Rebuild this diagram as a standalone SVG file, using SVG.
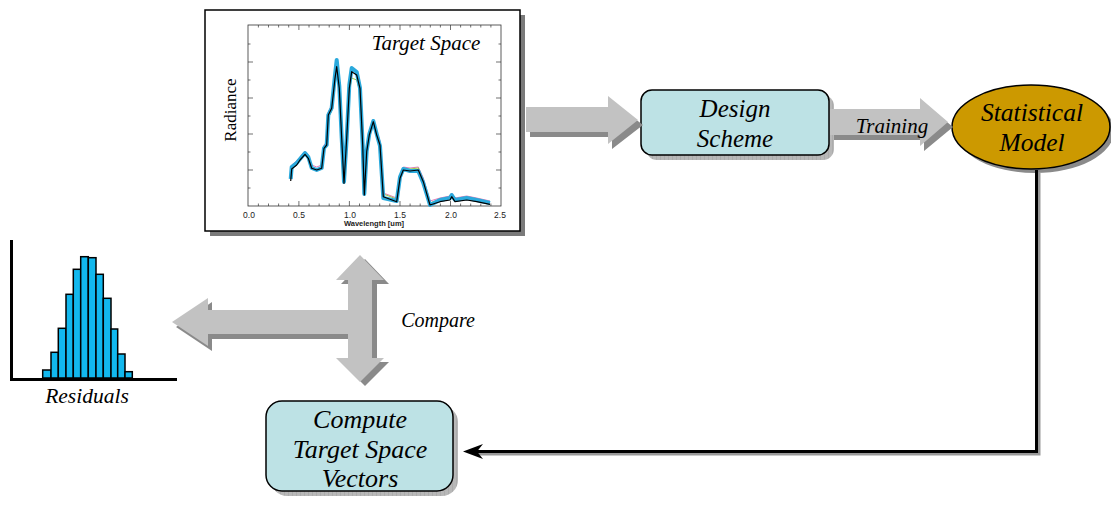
<svg xmlns="http://www.w3.org/2000/svg" width="1111" height="506" viewBox="0 0 1111 506">
<defs>
<style>
.lbl{font-family:"Liberation Serif","Times New Roman",serif;font-style:italic;fill:#000;text-anchor:middle}
.box{fill:#bde2e5;stroke:#000;stroke-width:1.5}
.arr{fill:#c2c2c2}
.arrs{fill:#8a8a8a}
.tick{stroke:#333;stroke-width:0.7}
.tl{font-family:"Liberation Sans",Arial,sans-serif;font-size:8.5px;fill:#222;text-anchor:middle}
.bar{fill:#12b8ee;stroke:#000;stroke-width:1.5}
</style>
<pattern id="grid" width="4" height="4" patternUnits="userSpaceOnUse">
<rect width="4" height="4" fill="#b8b8b8"/>
<path d="M0,0V4" stroke="#8f8f8f" stroke-width="0.6"/>
</pattern>
</defs>

<g id="target-space">
<rect x="210" y="15" width="315" height="221" fill="#7a7a7a"/>
<rect x="205" y="10" width="315" height="221" fill="#fff" stroke="#000" stroke-width="1.5"/>
<rect x="248" y="25" width="253" height="181" fill="none" stroke="#333" stroke-width="0.8"/>
<g class="tick">
<path d="M258.4,206v-2.5M268.5,206v-2.5M278.6,206v-2.5M288.7,206v-2.5M298.9,206v-5M309,206v-2.5M319.1,206v-2.5M329.2,206v-2.5M339.3,206v-2.5M349.4,206v-5M359.5,206v-2.5M369.6,206v-2.5M379.7,206v-2.5M389.8,206v-2.5M400,206v-5M410.1,206v-2.5M420.2,206v-2.5M430.3,206v-2.5M440.4,206v-2.5M450.5,206v-5M460.6,206v-2.5M470.7,206v-2.5M480.8,206v-2.5M490.9,206v-2.5"/>
<path d="M258.4,25v2.5M268.5,25v2.5M278.6,25v2.5M288.7,25v2.5M298.9,25v5M309,25v2.5M319.1,25v2.5M329.2,25v2.5M339.3,25v2.5M349.4,25v5M359.5,25v2.5M369.6,25v2.5M379.7,25v2.5M389.8,25v2.5M400,25v5M410.1,25v2.5M420.2,25v2.5M430.3,25v2.5M440.4,25v2.5M450.5,25v5M460.6,25v2.5M470.7,25v2.5M480.8,25v2.5M490.9,25v2.5"/>
<path d="M248,188h2.5M248,170h5M248,152h2.5M248,134h5M248,116h2.5M248,98h5M248,80h2.5M248,62h5M248,44h2.5"/>
<path d="M501,188h-2.5M501,170h-5M501,152h-2.5M501,134h-5M501,116h-2.5M501,98h-5M501,80h-2.5M501,62h-5M501,44h-2.5"/>
</g>
<g fill="none" stroke-linejoin="round">
<polyline stroke="#e07ab8" stroke-width="1" points="290.7,176 291.7,165 296.7,161 300,157 305,151 308.3,155 311.7,165 316.7,167 321.7,165 324,145 326.7,142 328.3,112 331.7,105 335,74 336.7,62 339.3,86 341.7,136 344,178 346.7,134 349.3,84 351.7,68 356.7,72 360,86 362.7,142 364.3,191 366.7,148 369.3,131 373.3,119 376.7,131 380,141 383.3,193 396.7,198 400,175 403.3,167 410,168 418.3,167 423.3,178 430,201 440,198 450,196 451.7,193 455,198 466.7,196 476.7,198 490,201"/>
<polyline stroke="#9acb4a" stroke-width="1" points="290.7,178 291.7,167 296.7,163 300,158 305,153 308.3,157 311.7,167 316.7,169 321.7,167 324,147 326.7,144 328.3,118 331.7,111 335,82 336.7,72 339.3,92 341.7,138 344,180 346.7,140 349.3,92 351.7,78 356.7,80 360,92 362.7,146 364.3,192 366.7,150 369.3,132 373.3,120 376.7,133 380,144 383.3,194 396.7,199 400,176 403.3,168 410,169 418.3,168 423.3,180 430,203 440,199 450,197 451.7,194 455,199 466.7,197 476.7,199 490,202"/>
<polyline stroke="#2aa9dc" stroke-width="4" points="290.7,179 291.7,167 296.7,163 300,159 305,153 308.3,157 311.7,168 316.7,170 321.7,168 324,148 326.7,145 328.3,115 331.7,108 335,75 336.7,60 339.3,86 341.7,138 344,182 346.7,138 349.3,85 351.7,68 356.7,72 360,88 362.7,145 364.3,194 366.7,151 369.3,134 373.3,121 376.7,134 380,146 383.3,198 396.7,201 400,177 403.3,169 410,171 418.3,171 423.3,183 430,205 440,200 450,198 451.7,195 455,200 466.7,198 476.7,200 490,203"/>
<polyline stroke="#000" stroke-width="1.2" points="290.7,181 291.7,169 296.7,165 300,160 305,154.3 308.3,158.3 311.7,168.3 316.7,170 321.7,168.3 324,148.3 326.7,145 328.3,115 331.7,108.3 335,78.3 336.7,66.7 339.3,88.3 341.7,138.3 344,183.3 346.7,138.3 349.3,88.3 351.7,71.7 356.7,75 360,88.3 362.7,145 364.3,195 366.7,151.7 369.3,135 373.3,121.7 376.7,135 380,145 383.3,196.7 396.7,201.7 400,178.3 403.3,170 410,171 418.3,170 423.3,181.7 430,205 440,201.7 450,200 451.7,196.7 455,201.7 466.7,200 476.7,201.7 490,204.3"/>
</g>
<text class="tl" x="249" y="218">0.0</text>
<text class="tl" x="299" y="218">0.5</text>
<text class="tl" x="350" y="218">1.0</text>
<text class="tl" x="400" y="218">1.5</text>
<text class="tl" x="451" y="218">2.0</text>
<text class="tl" x="500" y="218">2.5</text>
<text class="tl" x="374" y="226" style="font-size:7.5px;font-weight:bold">Wavelength [um]</text>
<text x="0" y="0" transform="translate(236,110) rotate(-90)" style="font-family:'Liberation Serif','Times New Roman',serif;font-size:17px;text-anchor:middle">Radiance</text>
<text class="lbl" x="426" y="50" style="font-size:21px">Target Space</text>
</g>

<g id="design-scheme">
<rect x="646" y="95" width="188" height="65" rx="11" fill="url(#grid)"/>
<rect class="box" x="641" y="90" width="188" height="65" rx="11"/>
<text class="lbl" x="735" y="117" style="font-size:25px">Design</text>
<text class="lbl" x="735" y="147" style="font-size:25px">Scheme</text>
</g>

<g id="statistical-model">
<ellipse cx="1035" cy="131" rx="79" ry="42" fill="#8a8a8a"/>
<ellipse cx="1031" cy="127" rx="79" ry="42" fill="#cc9900" stroke="#000" stroke-width="1.5"/>
<text class="lbl" x="1032" y="121" style="font-size:25.5px">Statistical</text>
<text class="lbl" x="1032" y="151" style="font-size:25.5px">Model</text>
</g>

<g id="compute-vectors">
<rect x="271" y="406" width="187" height="90" rx="16" fill="url(#grid)"/>
<rect class="box" x="266" y="401" width="187" height="90" rx="16"/>
<text class="lbl" x="360" y="428" style="font-size:26px">Compute</text>
<text class="lbl" x="360" y="458" style="font-size:26px">Target Space</text>
<text class="lbl" x="360" y="487" style="font-size:26px">Vectors</text>
</g>

<g id="residuals">
<rect class="bar" x="42.7" y="370" width="8.3" height="8"/>
<rect class="bar" x="51" y="352.3" width="7.3" height="25.7"/>
<rect class="bar" x="58.3" y="328.3" width="7.7" height="49.7"/>
<rect class="bar" x="66" y="294.3" width="7.3" height="83.7"/>
<rect class="bar" x="73.3" y="269.3" width="7.4" height="108.7"/>
<rect class="bar" x="80.7" y="256.7" width="7.6" height="121.3"/>
<rect class="bar" x="88.3" y="257.7" width="7.7" height="120.3"/>
<rect class="bar" x="96" y="274.3" width="7.3" height="103.7"/>
<rect class="bar" x="103.3" y="298.3" width="7.7" height="79.7"/>
<rect class="bar" x="111" y="329" width="6.7" height="49"/>
<rect class="bar" x="117.7" y="354" width="7.3" height="24"/>
<rect class="bar" x="125" y="371.7" width="7.3" height="6.3"/>
<path d="M11.5,240V379.5H177" fill="none" stroke="#000" stroke-width="3"/>
<text class="lbl" x="87" y="403" style="font-size:21.5px">Residuals</text>
</g>

<g id="connectors">
<g id="arrow-to-design">
<polygon class="arrs" points="530,112 612,112 612,101 643,125 612,149 612,137 530,137"/>
<polygon class="arr" points="526,107 608,107 608,96 638,120 608,144 608,132 526,132"/>
</g>
<g id="arrow-training">
<polygon class="arrs" points="834,114 924,114 924,103 953,127 924,151 924,140 834,140"/>
<polygon class="arr" points="830,109 920,109 920,98 948,122 920,146 920,135 830,135"/>
<text class="lbl" x="892" y="133" style="font-size:21px">Training</text>
</g>
<g id="arrow-compare">
<polygon class="arrs" points="176,327 212,302 212,315 352,315 352,339 212,339 212,351"/>
<polygon class="arrs" points="365,259 389,284 377,284 377,362 389,362 365,386 341,362 353,362 353,284 341,284"/>
<polygon class="arr" points="172,322 208,298 208,310 348,310 348,334 208,334 208,346"/>
<polygon class="arr" points="360,255 384,280 372,280 372,358 384,358 360,382 336,358 348,358 348,280 336,280"/>
<text class="lbl" x="438" y="327" style="font-size:20px">Compare</text>
</g>
<g id="model-to-compute">
<path d="M1039,173V454H475" fill="none" stroke="#999" stroke-width="3"/>
<path d="M1036.5,170V451.5H470" fill="none" stroke="#000" stroke-width="3"/>
<polygon points="463,451.5 483,444 477,451.5 483,459" fill="#000"/>
</g>
</g>
</svg>
